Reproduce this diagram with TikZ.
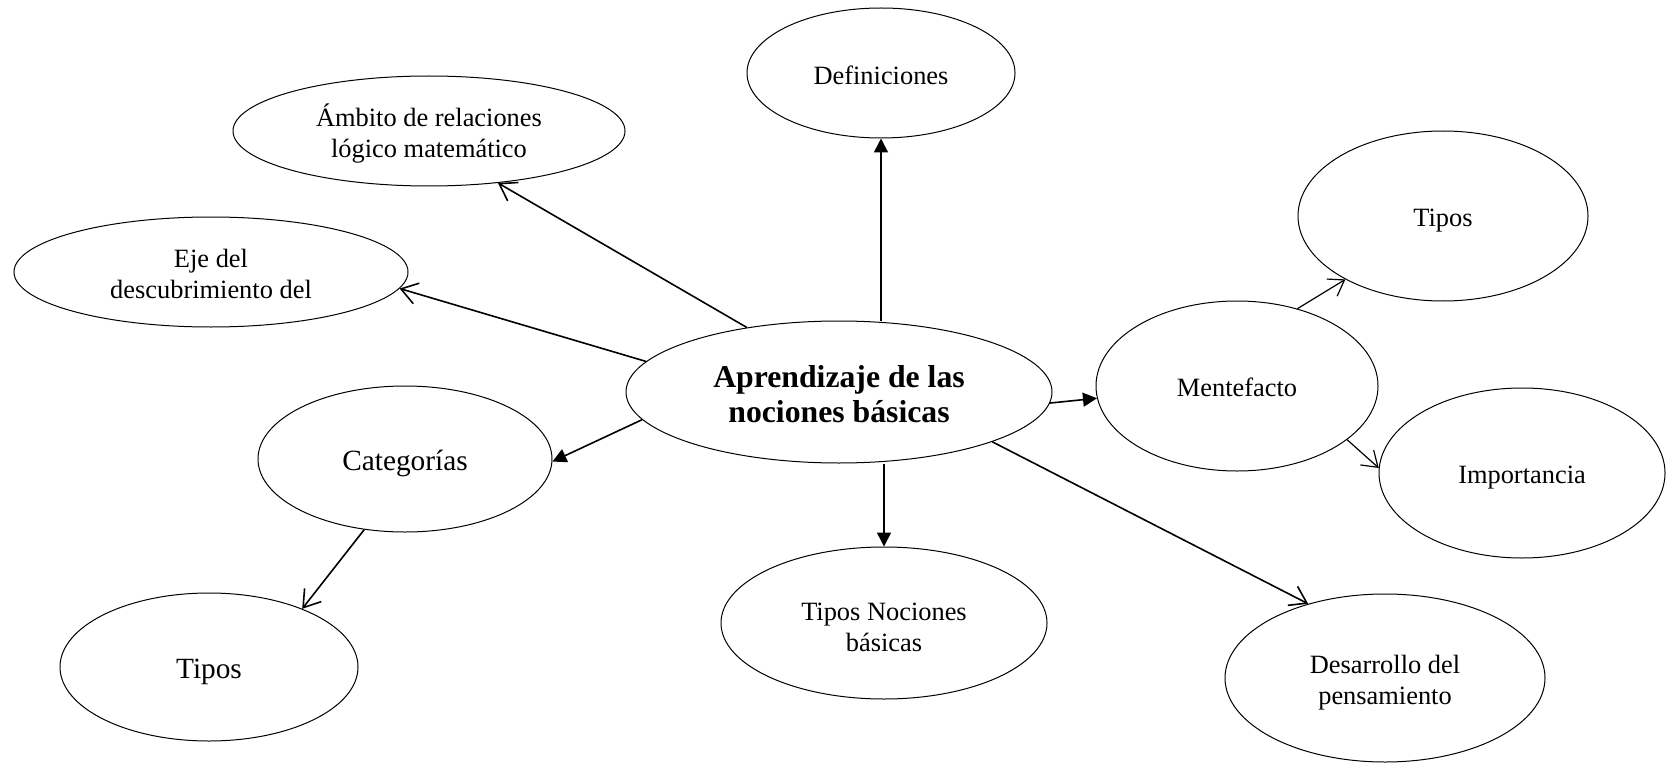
\documentclass[tikz,border=0pt]{standalone}
\usepackage{fontspec}
\setmainfont{Liberation Serif}
\usetikzlibrary{shapes.geometric,arrows.meta}
\newcommand\liftup[1]{\rule{0pt}{#1em}}
\begin{document}
\begin{tikzpicture}[x=0.75pt,y=-0.75pt,
  ell/.style 2 args={ellipse, draw, line width=0.75pt, inner sep=0pt, align=center,
    minimum width={#1*1.5pt}, minimum height={#2*1.5pt}},
  txt/.style={font=\fontsize{19.8}{23}\selectfont},
  big/.style={font=\fontsize{22}{25}\selectfont},
  hd/.style={font=\fontsize{23.8}{26.3}\selectfont\bfseries},
  fa/.style={line width=1.2pt, -{Triangle[length=10.5pt,width=10.5pt]}},
  oa/.style={line width=1.2pt, -{Straight Barb[length=12pt,width=16pt]}},
  oas/.style={line width=0.9pt, -{Straight Barb[length=11pt,width=15pt]}}]
\useasboundingbox (0,0) rectangle (1666,763);

\node[ell={213}{71}, hd] (central) at (839,392) {\liftup{0.84}Aprendizaje de las\\nociones básicas};
\node[ell={134}{65}, txt] (defin) at (881,73) {\liftup{0.85}Definiciones};
\node[ell={196}{55}, txt] (ambito) at (429,131) {\liftup{1.05}Ámbito de relaciones\\lógico matemático};
\node[ell={197}{55}, txt] (eje) at (211,272) {\liftup{0.85}Eje del\\descubrimiento del};
\node[ell={147}{73}, big] (categ) at (405,459) {\liftup{1.0}Categorías};
\node[ell={149}{74}, big] (tiposl) at (209,667) {\liftup{1.0}Tipos};
\node[ell={163}{76}, txt] (nociones) at (884,623) {\liftup{1.0}Tipos Nociones\\básicas};
\node[ell={141}{85}, txt] (mente) at (1237,386) {\liftup{0.8}Mentefacto};
\node[ell={145}{85}, txt] (tiposr) at (1443,216) {\liftup{1.0}Tipos};
\node[ell={143}{85}, txt] (import) at (1522,473) {\liftup{1.0}Importancia};
\node[ell={160}{84}, txt] (desarrollo) at (1385,678) {\liftup{1.05}Desarrollo del\\pensamiento};

\draw[fa] (central.north -| defin.south) -- (defin.south);
\draw[oa] (central.145) -- (ambito.-37.5);
\draw[oa] (central.171.4) -- (eje.-5.8);
\draw[fa] (central.188.7) -- (categ.-1.2);
\draw[oa] (categ.-120.5) -- (tiposl.32.6);
\draw[fa] (central.south -| nociones.north) -- (nociones.north);
\draw[oa] (central.-18.2) -- (desarrollo.136);
\draw[fa] (central.-3) -- (mente.-175.5);
\draw[oas] (mente.52.3) -- (tiposr.213.3);
\draw[oas] (mente.-26.4) -- (import.178.4);
\end{tikzpicture}
\end{document}
